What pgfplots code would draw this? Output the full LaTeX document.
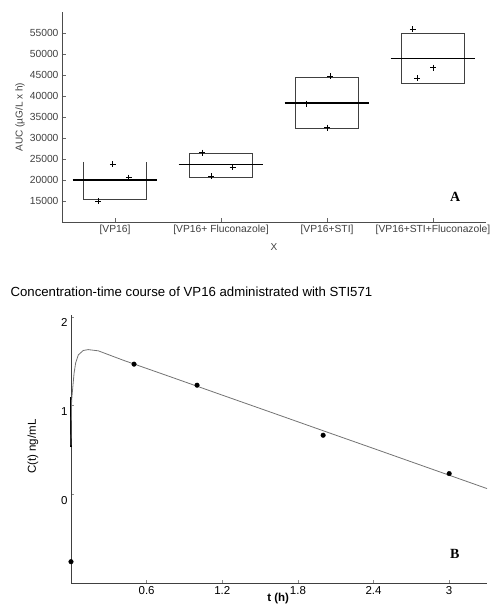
\documentclass[border=0pt]{standalone}
\usepackage{fontspec}
\setmainfont{Liberation Sans}
\newfontfamily\serifbf{Liberation Serif}
\usepackage{pgfplots}
\pgfplotsset{compat=1.18}

\begin{document}
\begin{tikzpicture}
\useasboundingbox (0,0) rectangle (494pt,613pt);

% ---- panel A: AUC per group
\begin{axis}[
  at={(62pt,391pt)}, anchor=south west, scale only axis,
  width=424pt, height=210pt,
  xmin=0.5, xmax=4.5, ymin=10000, ymax=60000,
  axis lines=left, axis line style={-, draw=black!70, line width=0.6pt},
  tick align=inside, major tick length=4pt,
  tick style={draw=black!60, line width=0.5pt},
  xtick={1,2,3,4},
  xticklabels={{[VP16]},{[VP16+ Fluconazole]},{[VP16+STI]},{[VP16+STI+Fluconazole]}},
  ytick={15000,20000,...,55000},
  scaled y ticks=false,
  /pgf/number format/set thousands separator={},
  /pgf/number format/assume math mode=true,
  ticklabel style={font=\fontsize{10.3}{12}\selectfont, text=black!75},
  xlabel={X},
  xlabel style={at={(axis description cs:0.5,-0.118)}, anchor=center, font=\fontsize{10}{12}\selectfont, text=black!75},
  ylabel={AUC (µG/L x h)},
  ylabel style={at={(axis description cs:-0.099,0.5)}, anchor=center, font=\fontsize{10}{12}\selectfont, text=black!75},
  clip=false,
]
% boxes
\addplot[draw=black!75, line width=0.7pt] coordinates {(0.7,24300)(0.7,15500)(1.3,15500)(1.3,24300)};
\addplot[draw=black!75, line width=0.7pt] coordinates {(1.7,20700)(2.3,20700)(2.3,26350)(1.7,26350)(1.7,20700)};
\addplot[draw=black!75, line width=0.7pt] coordinates {(2.7,32300)(3.3,32300)(3.3,44500)(2.7,44500)(2.7,32300)};
\addplot[draw=black!75, line width=0.7pt] coordinates {(3.7,43050)(4.3,43050)(4.3,54980)(3.7,54980)(3.7,43050)};
% medians
\addplot[black, line width=1.2pt] coordinates {(0.6,20000)(1.4,20000)};
\addplot[black, line width=1.3pt] coordinates {(1.6,23640)(2.4,23640)};
\addplot[black, line width=1.5pt] coordinates {(2.6,38320)(3.4,38320)};
\addplot[black, line width=1.5pt] coordinates {(3.6,48970)(4.4,48970)};
% individual values
\addplot[only marks, mark=+, mark size=3pt, black, line width=0.8pt] coordinates {
  (0.84,15000)(0.98,23740)(1.13,20550)
  (1.82,26500)(1.91,20950)(2.11,23090)
  (3.03,44750)(2.81,38160)(3.00,32450)
  (3.81,55860)(4.00,46730)(3.85,44270)};
\node[font=\serifbf\bfseries\fontsize{14}{16}\selectfont] at (axis cs:4.21,15900) {A};
\end{axis}

% ---- panel B: concentration-time course
\begin{axis}[
  at={(71pt,30pt)}, anchor=south west, scale only axis,
  width=416pt, height=268pt,
  xmin=0, xmax=3.3, ymin=-1, ymax=2.02,
  axis lines=left, axis line style={-, draw=black!75, line width=0.7pt},
  tick align=inside, major tick length=3pt,
  tick style={draw=black!45, line width=0.5pt},
  xtick={0.6,1.2,1.8,2.4,3}, ytick={0,1,2},
  /pgf/number format/assume math mode=true,
  ticklabel style={font=\fontsize{11.5}{13}\selectfont},
  yticklabel style={yshift=-6pt},
  xlabel={\textbf{t (h)}},
  xlabel style={at={(axis description cs:0.498,-0.057)}, anchor=center, font=\fontsize{11.5}{13}\selectfont},
  ylabel={C(t) ng/mL},
  ylabel style={at={(axis description cs:-0.0913,0.5086)}, anchor=center, font=\fontsize{11.5}{13}\selectfont},
  title={Concentration-time course of VP16 administrated with STI571},
  title style={at={(axis description cs:-0.1538,1.0634)}, anchor=west, font=\fontsize{13.2}{15}\selectfont},
  clip=false,
]
\addplot[black, line width=1.2pt] coordinates {(0,0.53)(0,1.10)};
\addplot[black!55, line width=0.8pt] coordinates {
  (0,0.55)(0.005,1.06)(0.024,1.36)(0.037,1.48)(0.058,1.57)(0.097,1.62)
  (0.137,1.63)(0.217,1.616)(0.415,1.51)(0.8,1.318)(1.2,1.117)(1.6,0.917)
  (2.0,0.716)(2.4,0.516)(2.8,0.315)(3.3,0.064)};
\addplot[only marks, mark=*, mark size=2.3pt, black] coordinates {
  (0,-0.76)(0.5,1.466)(1.0,1.229)(2.0,0.665)(3.0,0.233)};
\node[font=\serifbf\bfseries\fontsize{14}{16}\selectfont] at (axis cs:3.045,-0.669) {B};
\end{axis}
\end{tikzpicture}
\end{document}
